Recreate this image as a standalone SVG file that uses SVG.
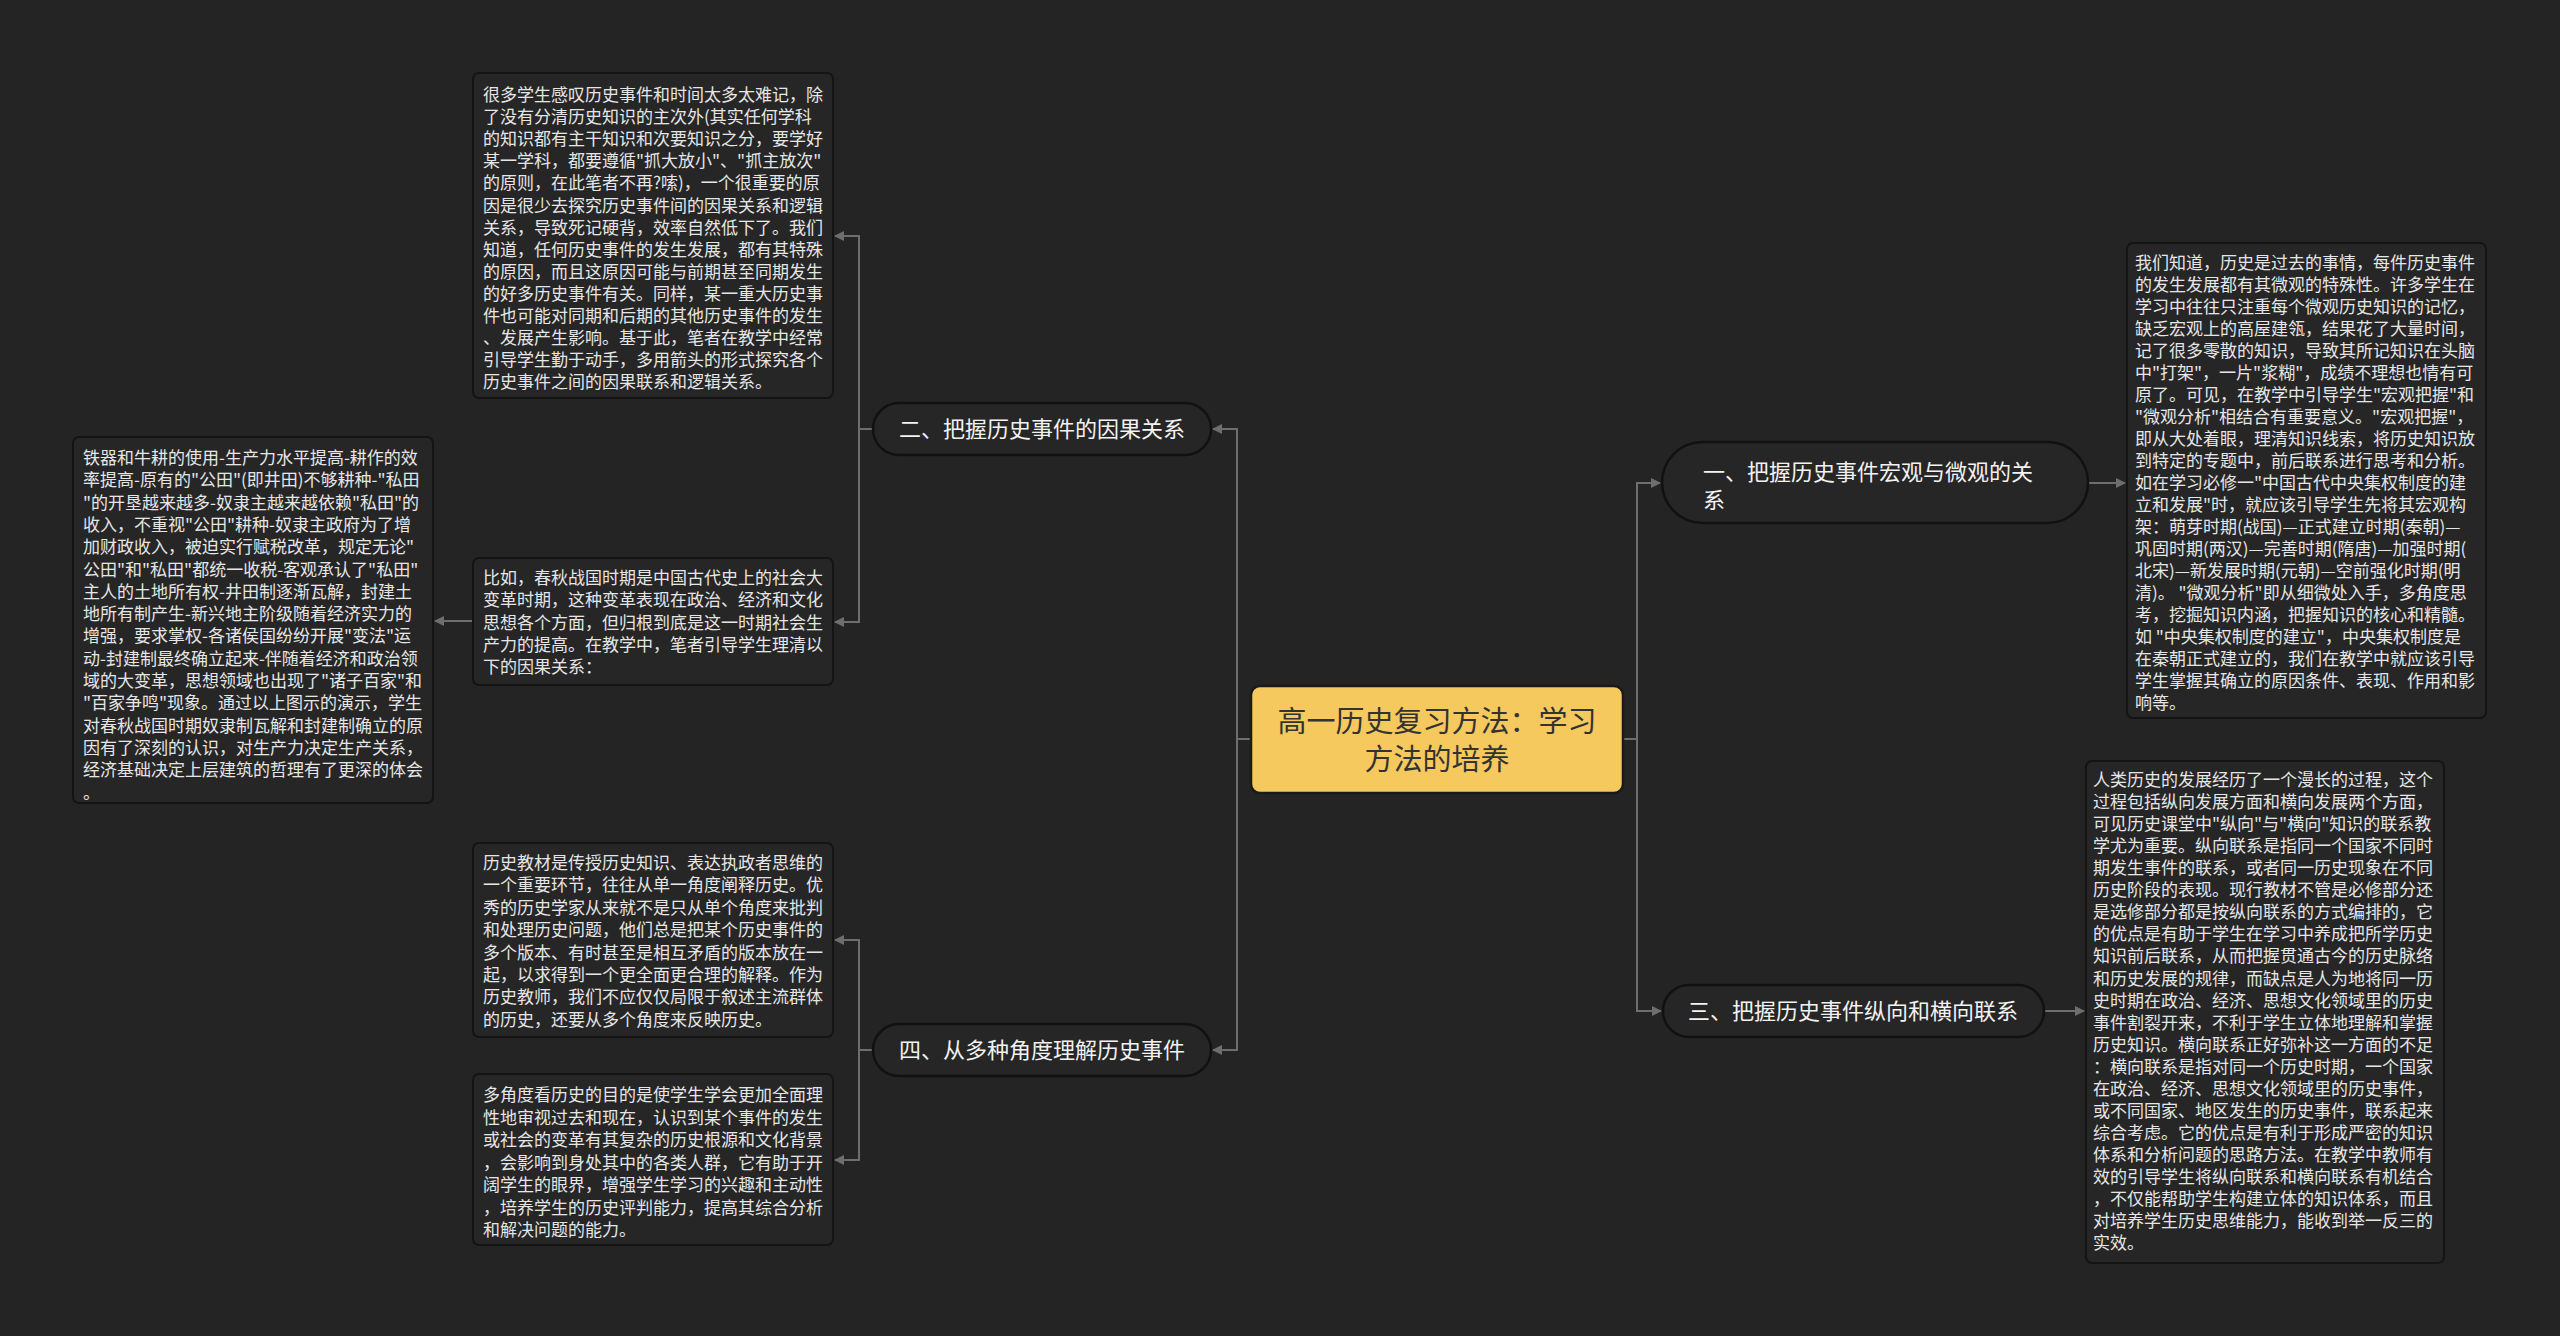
<svg xmlns="http://www.w3.org/2000/svg" width="2560" height="1336" viewBox="0 0 2560 1336">
<defs>
<marker id="arr" viewBox="0 0 10 10" refX="9" refY="5" markerWidth="5" markerHeight="5" orient="auto-start-reverse" markerUnits="strokeWidth">
<path d="M0,0 L10,5 L0,10 z" fill="#6e6e6e"/>
</marker>
<style>
.bg{fill:#242424}
.box{fill:#262626;stroke:#141414;stroke-width:2}
.branch{fill:#262626;stroke:#111111;stroke-width:2.5}
.center{fill:#F5C95D;stroke:#1a1a1a;stroke-width:2.5}
.t{font-family:"Noto Sans CJK SC","Noto Sans",sans-serif;font-size:17px;fill:#e6e6e6}
.bt{font-family:"Noto Sans CJK SC","Noto Sans",sans-serif;font-size:22px;fill:#f2f2f2}
.ct{font-family:"Noto Sans CJK SC","Noto Sans",sans-serif;font-size:29px;fill:#333333}
.c{fill:none;stroke:#6e6e6e;stroke-width:2}
</style>
</defs>
<rect class="bg" x="0" y="0" width="2560" height="1336"/>

<g id="connectors">
<path class="c" d="M1251,739 H1237"/>
<path class="c" d="M1237,739 V429 H1213" marker-end="url(#arr)"/>
<path class="c" d="M1237,739 V1050 H1213" marker-end="url(#arr)"/>
<path class="c" d="M1623,739 H1637"/>
<path class="c" d="M1637,739 V483 H1660" marker-end="url(#arr)"/>
<path class="c" d="M1637,739 V1011 H1661" marker-end="url(#arr)"/>
<path class="c" d="M2088,483 H2125" marker-end="url(#arr)"/>
<path class="c" d="M2044,1011 H2084" marker-end="url(#arr)"/>
<path class="c" d="M873,429 H859"/>
<path class="c" d="M859,429 V236 H835" marker-end="url(#arr)"/>
<path class="c" d="M859,429 V622 H835" marker-end="url(#arr)"/>
<path class="c" d="M473,621 H435" marker-end="url(#arr)"/>
<path class="c" d="M873,1050 H859"/>
<path class="c" d="M859,1050 V940 H835" marker-end="url(#arr)"/>
<path class="c" d="M859,1050 V1160 H835" marker-end="url(#arr)"/>
</g>

<g id="center">
<rect class="center" x="1251" y="686" width="372" height="107" rx="9"/>
<text class="ct" text-anchor="middle"><tspan x="1437" y="732">高一历史复习方法：学习</tspan><tspan x="1437" y="770">方法的培养</tspan></text>
</g>

<g id="branch1">
<rect class="branch" x="1662" y="442" width="426" height="81" rx="40.5"/>
<text class="bt"><tspan x="1703" y="480">一、把握历史事件宏观与微观的关</tspan><tspan x="1703" y="508">系</tspan></text>
</g>

<g id="branch2">
<rect class="branch" x="873" y="403" width="338" height="52" rx="26"/>
<text class="bt" x="1042" y="437" text-anchor="middle">二、把握历史事件的因果关系</text>
</g>

<g id="branch3">
<rect class="branch" x="1663" y="985" width="381" height="52" rx="26"/>
<text class="bt" x="1853" y="1019" text-anchor="middle">三、把握历史事件纵向和横向联系</text>
</g>

<g id="branch4">
<rect class="branch" x="873" y="1024" width="338" height="52" rx="26"/>
<text class="bt" x="1042" y="1058" text-anchor="middle">四、从多种角度理解历史事件</text>
</g>

<g id="leaf2a">
<rect class="box" x="473" y="73" width="360" height="325" rx="6"/>
<text class="t"><tspan x="483" y="101">很多学生感叹历史事件和时间太多太难记，除</tspan><tspan x="483" dy="22.1">了没有分清历史知识的主次外(其实任何学科</tspan><tspan x="483" dy="22.1">的知识都有主干知识和次要知识之分，要学好</tspan><tspan x="483" dy="22.1">某一学科，都要遵循"抓大放小"、"抓主放次"</tspan><tspan x="483" dy="22.1">的原则，在此笔者不再?嗦)，一个很重要的原</tspan><tspan x="483" dy="22.1">因是很少去探究历史事件间的因果关系和逻辑</tspan><tspan x="483" dy="22.1">关系，导致死记硬背，效率自然低下了。我们</tspan><tspan x="483" dy="22.1">知道，任何历史事件的发生发展，都有其特殊</tspan><tspan x="483" dy="22.1">的原因，而且这原因可能与前期甚至同期发生</tspan><tspan x="483" dy="22.1">的好多历史事件有关。同样，某一重大历史事</tspan><tspan x="483" dy="22.1">件也可能对同期和后期的其他历史事件的发生</tspan><tspan x="483" dy="22.1">、发展产生影响。基于此，笔者在教学中经常</tspan><tspan x="483" dy="22.1">引导学生勤于动手，多用箭头的形式探究各个</tspan><tspan x="483" dy="22.1">历史事件之间的因果联系和逻辑关系。</tspan></text>
</g>

<g id="leaf2b">
<rect class="box" x="473" y="558" width="360" height="127" rx="6"/>
<text class="t"><tspan x="483" y="584">比如，春秋战国时期是中国古代史上的社会大</tspan><tspan x="483" dy="22.3">变革时期，这种变革表现在政治、经济和文化</tspan><tspan x="483" dy="22.3">思想各个方面，但归根到底是这一时期社会生</tspan><tspan x="483" dy="22.3">产力的提高。在教学中，笔者引导学生理清以</tspan><tspan x="483" dy="22.3">下的因果关系：</tspan></text>
</g>

<g id="leaf2c">
<rect class="box" x="73" y="437" width="360" height="366" rx="6"/>
<text class="t"><tspan x="83" y="464">铁器和牛耕的使用-生产力水平提高-耕作的效</tspan><tspan x="83" dy="22.3">率提高-原有的"公田"(即井田)不够耕种-"私田</tspan><tspan x="83" dy="22.3">"的开垦越来越多-奴隶主越来越依赖"私田"的</tspan><tspan x="83" dy="22.3">收入，不重视"公田"耕种-奴隶主政府为了增</tspan><tspan x="83" dy="22.3">加财政收入，被迫实行赋税改革，规定无论"</tspan><tspan x="83" dy="22.3">公田"和"私田"都统一收税-客观承认了"私田"</tspan><tspan x="83" dy="22.3">主人的土地所有权-井田制逐渐瓦解，封建土</tspan><tspan x="83" dy="22.3">地所有制产生-新兴地主阶级随着经济实力的</tspan><tspan x="83" dy="22.3">增强，要求掌权-各诸侯国纷纷开展"变法"运</tspan><tspan x="83" dy="22.3">动-封建制最终确立起来-伴随着经济和政治领</tspan><tspan x="83" dy="22.3">域的大变革，思想领域也出现了"诸子百家"和</tspan><tspan x="83" dy="22.3">"百家争鸣"现象。通过以上图示的演示，学生</tspan><tspan x="83" dy="22.3">对春秋战国时期奴隶制瓦解和封建制确立的原</tspan><tspan x="83" dy="22.3">因有了深刻的认识，对生产力决定生产关系，</tspan><tspan x="83" dy="22.3">经济基础决定上层建筑的哲理有了更深的体会</tspan><tspan x="83" dy="22.3">。</tspan></text>
</g>

<g id="leaf4a">
<rect class="box" x="473" y="843" width="360" height="194" rx="6"/>
<text class="t"><tspan x="483" y="869">历史教材是传授历史知识、表达执政者思维的</tspan><tspan x="483" dy="22.4">一个重要环节，往往从单一角度阐释历史。优</tspan><tspan x="483" dy="22.4">秀的历史学家从来就不是只从单个角度来批判</tspan><tspan x="483" dy="22.4">和处理历史问题，他们总是把某个历史事件的</tspan><tspan x="483" dy="22.4">多个版本、有时甚至是相互矛盾的版本放在一</tspan><tspan x="483" dy="22.4">起，以求得到一个更全面更合理的解释。作为</tspan><tspan x="483" dy="22.4">历史教师，我们不应仅仅局限于叙述主流群体</tspan><tspan x="483" dy="22.4">的历史，还要从多个角度来反映历史。</tspan></text>
</g>

<g id="leaf4b">
<rect class="box" x="473" y="1074" width="360" height="171" rx="6"/>
<text class="t"><tspan x="483" y="1101">多角度看历史的目的是使学生学会更加全面理</tspan><tspan x="483" dy="22.5">性地审视过去和现在，认识到某个事件的发生</tspan><tspan x="483" dy="22.5">或社会的变革有其复杂的历史根源和文化背景</tspan><tspan x="483" dy="22.5">，会影响到身处其中的各类人群，它有助于开</tspan><tspan x="483" dy="22.5">阔学生的眼界，增强学生学习的兴趣和主动性</tspan><tspan x="483" dy="22.5">，培养学生的历史评判能力，提高其综合分析</tspan><tspan x="483" dy="22.5">和解决问题的能力。</tspan></text>
</g>

<g id="leaf1">
<rect class="box" x="2127" y="243" width="359" height="475" rx="6"/>
<text class="t"><tspan x="2135" y="269">我们知道，历史是过去的事情，每件历史事件</tspan><tspan x="2135" dy="22">的发生发展都有其微观的特殊性。许多学生在</tspan><tspan x="2135" dy="22">学习中往往只注重每个微观历史知识的记忆，</tspan><tspan x="2135" dy="22">缺乏宏观上的高屋建瓴，结果花了大量时间，</tspan><tspan x="2135" dy="22">记了很多零散的知识，导致其所记知识在头脑</tspan><tspan x="2135" dy="22">中"打架"，一片"浆糊"，成绩不理想也情有可</tspan><tspan x="2135" dy="22">原了。可见，在教学中引导学生"宏观把握"和</tspan><tspan x="2135" dy="22">"微观分析"相结合有重要意义。"宏观把握"，</tspan><tspan x="2135" dy="22">即从大处着眼，理清知识线索，将历史知识放</tspan><tspan x="2135" dy="22">到特定的专题中，前后联系进行思考和分析。</tspan><tspan x="2135" dy="22">如在学习必修一"中国古代中央集权制度的建</tspan><tspan x="2135" dy="22">立和发展"时，就应该引导学生先将其宏观构</tspan><tspan x="2135" dy="22">架：萌芽时期(战国)—正式建立时期(秦朝)—</tspan><tspan x="2135" dy="22">巩固时期(两汉)—完善时期(隋唐)—加强时期(</tspan><tspan x="2135" dy="22">北宋)—新发展时期(元朝)—空前强化时期(明</tspan><tspan x="2135" dy="22">清)。 "微观分析"即从细微处入手，多角度思</tspan><tspan x="2135" dy="22">考，挖掘知识内涵，把握知识的核心和精髓。</tspan><tspan x="2135" dy="22">如 "中央集权制度的建立"，中央集权制度是</tspan><tspan x="2135" dy="22">在秦朝正式建立的，我们在教学中就应该引导</tspan><tspan x="2135" dy="22">学生掌握其确立的原因条件、表现、作用和影</tspan><tspan x="2135" dy="22">响等。</tspan></text>
</g>

<g id="leaf3">
<rect class="box" x="2086" y="761" width="358" height="502" rx="6"/>
<text class="t"><tspan x="2093" y="786">人类历史的发展经历了一个漫长的过程，这个</tspan><tspan x="2093" dy="22.06">过程包括纵向发展方面和横向发展两个方面，</tspan><tspan x="2093" dy="22.06">可见历史课堂中"纵向"与"横向"知识的联系教</tspan><tspan x="2093" dy="22.06">学尤为重要。纵向联系是指同一个国家不同时</tspan><tspan x="2093" dy="22.06">期发生事件的联系，或者同一历史现象在不同</tspan><tspan x="2093" dy="22.06">历史阶段的表现。现行教材不管是必修部分还</tspan><tspan x="2093" dy="22.06">是选修部分都是按纵向联系的方式编排的，它</tspan><tspan x="2093" dy="22.06">的优点是有助于学生在学习中养成把所学历史</tspan><tspan x="2093" dy="22.06">知识前后联系，从而把握贯通古今的历史脉络</tspan><tspan x="2093" dy="22.06">和历史发展的规律，而缺点是人为地将同一历</tspan><tspan x="2093" dy="22.06">史时期在政治、经济、思想文化领域里的历史</tspan><tspan x="2093" dy="22.06">事件割裂开来，不利于学生立体地理解和掌握</tspan><tspan x="2093" dy="22.06">历史知识。横向联系正好弥补这一方面的不足</tspan><tspan x="2093" dy="22.06">：横向联系是指对同一个历史时期，一个国家</tspan><tspan x="2093" dy="22.06">在政治、经济、思想文化领域里的历史事件，</tspan><tspan x="2093" dy="22.06">或不同国家、地区发生的历史事件，联系起来</tspan><tspan x="2093" dy="22.06">综合考虑。它的优点是有利于形成严密的知识</tspan><tspan x="2093" dy="22.06">体系和分析问题的思路方法。在教学中教师有</tspan><tspan x="2093" dy="22.06">效的引导学生将纵向联系和横向联系有机结合</tspan><tspan x="2093" dy="22.06">，不仅能帮助学生构建立体的知识体系，而且</tspan><tspan x="2093" dy="22.06">对培养学生历史思维能力，能收到举一反三的</tspan><tspan x="2093" dy="22.06">实效。</tspan></text>
</g>
</svg>
